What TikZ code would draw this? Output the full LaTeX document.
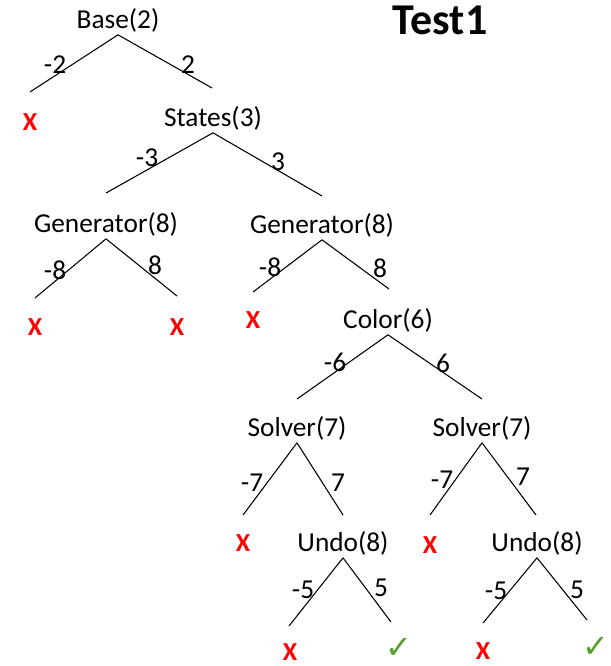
\documentclass[tikz,border=0pt]{standalone}
\usepackage{fontspec}
\setmainfont{Carlito}
\newfontfamily\symfont{DejaVu Sans}
\definecolor{nored}{RGB}{255,0,0}
\definecolor{okgreen}{RGB}{84,160,40}
\begin{document}
\begin{tikzpicture}[x=0.75pt,y=-0.75pt,
	lab/.style={inner sep=2pt,font=\fontsize{20.5}{22}\selectfont},
	elab/.style={inner sep=0pt,font=\fontsize{20.5}{22}\selectfont},
	nogo/.style={inner sep=0pt,text=nored,font=\fontsize{19.5}{21}\selectfont\bfseries},
	okay/.style={inner sep=0pt,text=okgreen,font=\fontsize{24}{26}\selectfont\symfont},
	br/.style={line width=0.8pt,black}]
		\useasboundingbox (0,0) rectangle (610,666);
		\node[inner sep=0pt,font=\fontsize{33}{36}\selectfont\bfseries] (title) at (440,20) {Test1};
		
		\node[lab] (base) at (118,20) {Base(2)};
		\coordinate (baseL) at (30,92);
		\coordinate (baseR) at (212,88);
		\draw[br](base.south)--(baseL);
		\draw[br](base.south)--(baseR);
		\node[elab] (eBaseL) at (55,65) {-2};
		\node[elab] (eBaseR) at (188,65) {2};
		\node[nogo] (x1) at (30,122) {X};
		
		\node[lab] (states) at (213,118) {States(3)};
		\coordinate (statesL) at (106,193);
		\coordinate (statesR) at (322,196);
		\draw[br](states.south)--(statesL);
		\draw[br](states.south)--(statesR);
		\node[elab] (eStatesL) at (147,158) {-3};
		\node[elab] (eStatesR) at (278,162) {3};
		
		\node[lab] (genL) at (106,224) {Generator(8)};
		\coordinate (genLL) at (35,298);
		\coordinate (genLR) at (177,296);
		\draw[br](genL.south)--(genLL);
		\draw[br](genL.south)--(genLR);
		\node[elab] (eGenLL) at (55,270) {-8};
		\node[elab] (eGenLR) at (155,265) {8};
		\node[nogo] (x2) at (35,327) {X};
		\node[nogo] (x3) at (177,327) {X};
		
		\node[lab] (genR) at (322,225) {Generator(8)};
		\coordinate (genRL) at (253,292);
		\coordinate (genRR) at (389,289);
		\draw[br](genR.south)--(genRL);
		\draw[br](genR.south)--(genRR);
		\node[elab] (eGenRL) at (270,267) {-8};
		\node[elab] (eGenRR) at (380,268) {8};
		\node[nogo] (x4) at (253,320) {X};
		
		\node[lab] (color) at (388,320) {Color(6)};
		\coordinate (colorL) at (297,399);
		\coordinate (colorR) at (482,399);
		\draw[br](color.south)--(colorL);
		\draw[br](color.south)--(colorR);
		\node[elab] (eColorL) at (335,362) {-6};
		\node[elab] (eColorR) at (443,363) {6};
		
		\node[lab] (solL) at (297,428) {Solver(7)};
		\coordinate (solLL) at (243,515);
		\coordinate (solLR) at (343,515);
		\draw[br](solL.south)--(solLL);
		\draw[br](solL.south)--(solLR);
		\node[elab] (eSolLL) at (252,483) {-7};
		\node[elab] (eSolLR) at (338,483) {7};
		\node[nogo] (x5) at (243,543) {X};
		
		\node[lab] (solR) at (482,428) {Solver(7)};
		\coordinate (solRL) at (430,515);
		\coordinate (solRR) at (536,515);
		\draw[br](solR.south)--(solRL);
		\draw[br](solR.south)--(solRR);
		\node[elab] (eSolRL) at (442,480) {-7};
		\node[elab] (eSolRR) at (523,477) {7};
		\node[nogo] (x6) at (430,545) {X};
		
		\node[lab] (undoL) at (343,543) {Undo(8)};
		\coordinate (undoLL) at (289,626);
		\coordinate (undoLR) at (391,622);
		\draw[br](undoL.south)--(undoLL);
		\draw[br](undoL.south)--(undoLR);
		\node[elab] (eUndoLL) at (303,590) {-5};
		\node[elab] (eUndoLR) at (381,588) {5};
		\node[nogo] (x7) at (290,652) {X};
		\node[okay] (ok1) at (399,648) {✓};
		
		\node[lab] (undoR) at (537,543) {Undo(8)};
		\coordinate (undoRL) at (483,623);
		\coordinate (undoRR) at (587,620);
		\draw[br](undoR.south)--(undoRL);
		\draw[br](undoR.south)--(undoRR);
		\node[elab] (eUndoRL) at (496,591) {-5};
		\node[elab] (eUndoRR) at (577,590) {5};
		\node[nogo] (x8) at (483,651) {X};
		\node[okay] (ok2) at (596,647) {✓};
		\end{tikzpicture}
\end{document}
